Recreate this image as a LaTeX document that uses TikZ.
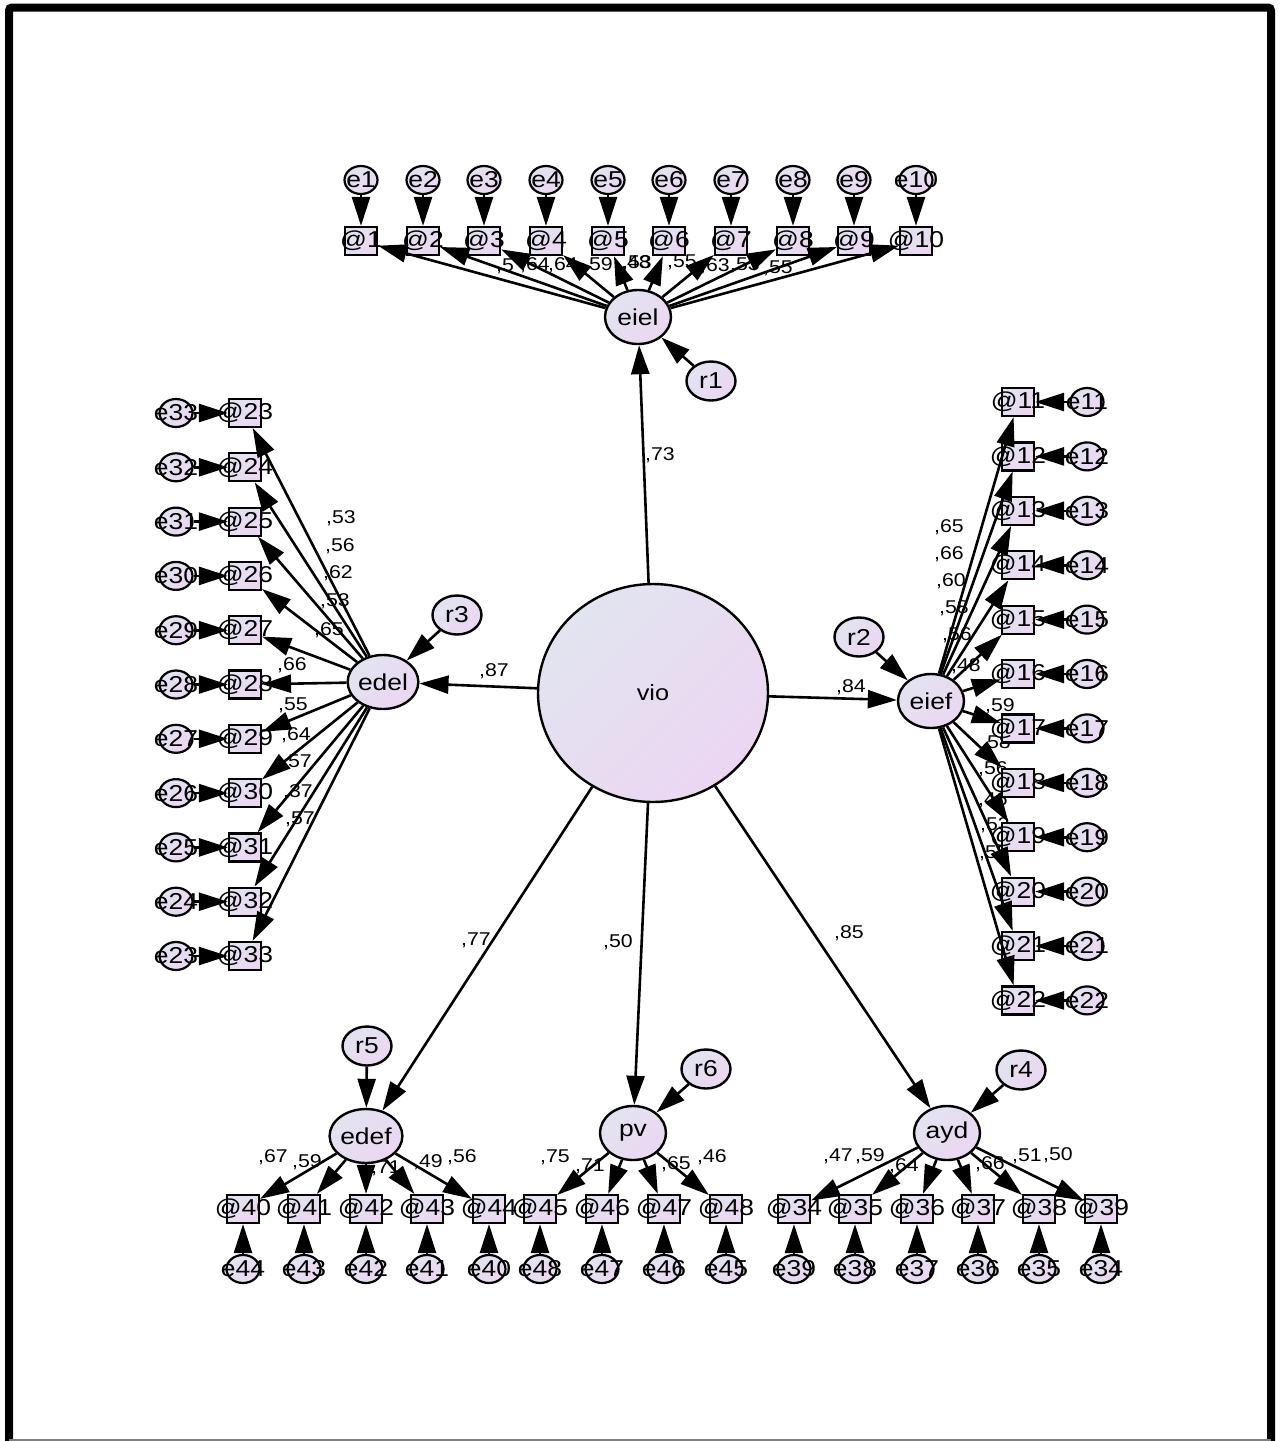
\documentclass[tikz,border=0pt]{standalone}
\usepackage{fontspec}
\setmainfont{Liberation Sans}[FakeStretch=1.15]
\usetikzlibrary{shapes.geometric,arrows.meta}
\definecolor{shA}{RGB}{226,228,240}
\definecolor{shB}{RGB}{236,214,242}
\tikzset{
 shd/.style={top color=shA, bottom color=shB, shading angle=45},
 lat/.style={ellipse, draw, line width=2.4pt, shd, minimum width=66pt, minimum height=54pt, inner sep=0pt, font=\fontsize{23}{23}\selectfont},
 res/.style={ellipse, draw, line width=2.4pt, shd, minimum width=49pt, minimum height=39pt, inner sep=0pt, font=\fontsize{23}{23}\selectfont},
 err/.style={ellipse, draw, line width=2.2pt, shd, minimum width=33pt, minimum height=28pt, inner sep=0pt},
 obs/.style={rectangle, draw, line width=2.2pt, shd, minimum width=32pt, minimum height=28pt, inner sep=0pt},
 lab/.style={font=\fontsize{23}{23}\selectfont, inner sep=0pt},
 pth/.style={line width=2.6pt, -{Triangle[length=29pt,width=18pt]}},
 coef/.style={font=\fontsize{18.5}{18.5}\selectfont, inner sep=0pt},
}
\begin{document}
\begin{tikzpicture}[x=1pt,y=-1pt]
\useasboundingbox (0,0) rectangle (1283,1441);
% frame
\draw[line width=8pt, rounded corners=3pt] (9,1441) -- (9,7.5) -- (1271,7.5) -- (1271,1441);
\draw[line width=1.5pt, gray] (9,1440.2) -- (1271,1440.2);
% coefficient labels
\foreach \t/\x/\y [count=\n] in {
 {,5}/505/266, {,64}/535/265, {,64}/563/265, {,59}/598/265, {,48}/636/263, {,53}/637/263, {,55}/682/262, {,63}/715/266, {,53}/745/265, {,55}/778/268,
 {,53}/341/518, {,56}/340/546, {,62}/338/573, {,53}/335/601, {,65}/329/630, {,66}/292/665, {,55}/293/705, {,64}/296/735, {,57}/297/762, {,37}/298/792, {,57}/300/819,
 {,65}/949/527, {,66}/949/554, {,60}/951/581, {,58}/954/608, {,56}/957/635, {,48}/966/666, {,59}/1000/706, {,58}/996/743, {,56}/993/769, {,46}/993/800, {,53}/995/825, {,58}/994/853,
 {,67}/273/1157, {,59}/307/1162, {,71}/386/1168, {,49}/428/1162, {,56}/462/1157,
 {,75}/555/1157, {,71}/590/1166, {,65}/676/1164, {,46}/712/1157,
 {,47}/838/1156, {,59}/870/1156, {,64}/904/1166, {,66}/990/1164, {,51}/1027/1156, {,50}/1058/1155,
 {,73}/660/455, {,87}/494/671, {,84}/851/687, {,77}/476/940, {,50}/618/942, {,85}/849/933}
 {\node[coef] (c\n) at (\x,\y) {\t};}
% latent nodes
\node[ellipse, draw, line width=2.4pt, shd, minimum width=230pt, minimum height=218pt, inner sep=0pt, font=\fontsize{22}{22}\selectfont] (vio) at (653,693) {vio};
\node[lat] (eiel) at (638,317) {eiel};
\node[lat] (edel) at (383,682) {edel};
\node[lat] (eief) at (931,701) {eief};
\node[lat] (edef) at (366,1136) {edef};
\node[lat] (pv) at (633,1133) {pv};
\node[lat] (ayd) at (947,1133) {ayd};
\node[res] (r1) at (711,381) {r1};
\node[res] (r3) at (457,615) {r3};
\node[res] (r2) at (859,637) {r2};
\node[res] (r5) at (367,1046) {r5};
\node[res] (r6) at (706,1069) {r6};
\node[res] (r4) at (1021,1070) {r4};
% top indicators
\foreach \i/\x in {1/361,2/423,3/484,4/546,5/608,6/669,7/731,8/793,9/854,10/916}{
 \node[obs, label={[lab]center:@\i}] (b\i) at (\x,241) {};
 \node[err, label={[lab]center:e\i}] (e\i) at (\x,180) {};
}
% left indicators
\foreach \i in {23,...,33}{
 \pgfmathsetmacro\yy{413+54.3*(\i-23)}
 \pgfmathtruncatemacro\ee{56-\i}
 \node[obs, label={[lab]center:@\i}] (b\i) at (245,\yy) {};
 \node[err, label={[lab]center:e\ee}] (e\ee) at (176,\yy) {};
}
% right indicators
\foreach \i in {11,...,22}{
 \pgfmathsetmacro\yy{402+54.4*(\i-11)}
 \node[obs, label={[lab]center:@\i}] (b\i) at (1018,\yy) {};
 \node[err, label={[lab]center:e\i}] (e\i) at (1087,\yy) {};
}
% bottom indicators
\foreach \i/\x/\ee in {40/243/44,41/304/43,42/366/42,43/427/41,44/489/40,
  45/540/48,46/602/47,47/664/46,48/726/45,
  34/794/39,35/855/38,36/917/37,37/978/36,38/1039/35,39/1101/34}{
 \node[obs, label={[lab]center:@\i}] (b\i) at (\x,1209) {};
 \node[err, label={[lab]center:e\ee}] (e\ee) at (\x,1269) {};
}
% structural paths
\foreach \t in {eiel,edel,eief,edef,pv,ayd}{\draw[pth] (vio) -- (\t);}
\draw[pth] (r1) -- (eiel);
\draw[pth] (r3) -- (edel);
\draw[pth] (r2) -- (eief);
\draw[pth] (r5) -- (edef);
\draw[pth] (r6) -- (pv);
\draw[pth] (r4) -- (ayd);
% loadings and errors
\foreach \i in {1,...,10}{\draw[pth] (eiel) -- (b\i); \draw[pth] (e\i) -- (b\i);}
\foreach \i in {23,...,33}{\pgfmathtruncatemacro\ee{56-\i}\draw[pth] (edel) -- (b\i); \draw[pth] (e\ee) -- (b\i);}
\foreach \i in {11,...,22}{\draw[pth] (eief) -- (b\i); \draw[pth] (e\i) -- (b\i);}
\foreach \i/\ee in {40/44,41/43,42/42,43/41,44/40}{\draw[pth] (edef) -- (b\i); \draw[pth] (e\ee) -- (b\i);}
\foreach \i/\ee in {45/48,46/47,47/46,48/45}{\draw[pth] (pv) -- (b\i); \draw[pth] (e\ee) -- (b\i);}
\foreach \i/\ee in {34/39,35/38,36/37,37/36,38/35,39/34}{\draw[pth] (ayd) -- (b\i); \draw[pth] (e\ee) -- (b\i);}
\end{tikzpicture}
\end{document}
